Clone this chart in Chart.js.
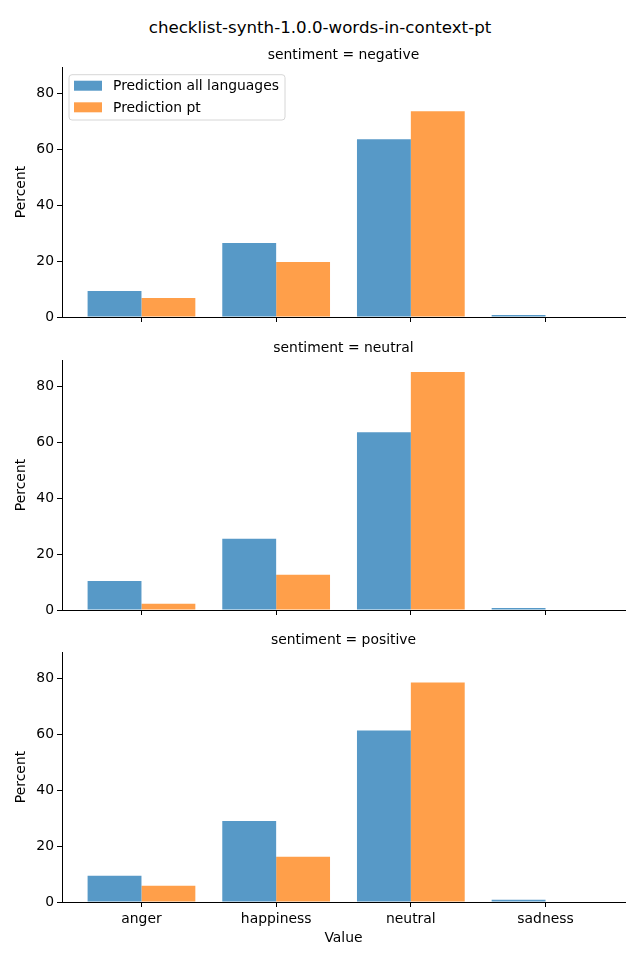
<!DOCTYPE html>
<html><head><meta charset="utf-8">
<script src="https://cdn.jsdelivr.net/npm/chart.js@4.4.1/dist/chart.umd.min.js"></script>
<style>
html,body{margin:0;padding:0;background:#fff;}
#wrap{position:relative;width:640px;height:960px;overflow:hidden;background:#fff;}
#suptitle{position:absolute;left:0;top:18px;width:640px;text-align:center;font-family:"DejaVu Sans";font-size:16.67px;line-height:20px;color:#000;}
canvas{position:absolute;left:0;}
</style></head><body>
<div id="wrap">
<div id="suptitle">checklist-synth-1.0.0-words-in-context-pt</div>
<canvas id="c0" width="640" height="290" style="top:40px"></canvas>
<canvas id="c1" width="640" height="290" style="top:333px"></canvas>
<canvas id="c2" width="640" height="335" style="top:625px"></canvas>
</div>
<script>
const categories = ['anger', 'happiness', 'neutral', 'sadness'];
const panelNames = ['negative', 'neutral', 'positive'];
const seriesLabels = ['Prediction all languages', 'Prediction pt'];
const allNegative = [9.3, 26.5, 63.7, 0.7];
const ptNegative  = [6.8, 19.7, 73.7, 0.0];
const allNeutral  = [10.4, 25.5, 63.7, 0.7];
const ptNeutral   = [2.2, 12.6, 85.3, 0.0];
const allPositive = [9.4, 29.0, 61.5, 0.8];
const ptPositive  = [5.8, 16.2, 78.7, 0.0];
const yTicks = [0, 20, 40, 60, 80];
const yMax = 89.6;

const panelSeries = [[allNegative, ptNegative], [allNeutral, ptNeutral], [allPositive, ptPositive]];
const colors = ['#5799c7', '#ff9f4a'];
const FONT = 'DejaVu Sans';
const FS = 13.9;
Chart.defaults.font.family = FONT;
Chart.defaults.color = '#000';

const innerLegend = {
  id: 'innerLegend',
  afterDraw(chart) {
    const ctx = chart.ctx, ca = chart.chartArea;
    const x = ca.left + 7, y = ca.top + 7.7, w = 216, h = 45.3, r = 3;
    ctx.save();
    ctx.beginPath();
    ctx.moveTo(x + r, y);
    ctx.arcTo(x + w, y, x + w, y + h, r);
    ctx.arcTo(x + w, y + h, x, y + h, r);
    ctx.arcTo(x, y + h, x, y, r);
    ctx.arcTo(x, y, x + w, y, r);
    ctx.closePath();
    ctx.fillStyle = 'rgba(255,255,255,0.8)';
    ctx.fill();
    ctx.strokeStyle = '#d6d6d6';
    ctx.lineWidth = 1;
    ctx.stroke();
    chart.data.datasets.forEach((ds, i) => {
      const py = ca.top + 13.7 + i * 21.6;
      ctx.fillStyle = ds.backgroundColor;
      ctx.fillRect(ca.left + 12, py, 28, 10);
      ctx.fillStyle = '#000';
      ctx.font = FS + 'px "' + FONT + '"';
      ctx.textBaseline = 'middle';
      ctx.textAlign = 'left';
      ctx.fillText(ds.label, ca.left + 51, py + 6);
    });
    ctx.restore();
  }
};

panelNames.forEach((name, p) => {
  const last = p === panelNames.length - 1;
  const canvas = document.getElementById('c' + p);
  const xHeight = canvas.height - 277;
  new Chart(canvas, {
    type: 'bar',
    data: {
      datasets: panelSeries[p].map((vals, s) => ({
        label: seriesLabels[s],
        data: categories.map((c, j) => ({x: j, y: vals[j]})),
        backgroundColor: colors[s],
        borderWidth: 0,
        barPercentage: 1,
        categoryPercentage: 0.8
      }))
    },
    plugins: p === 0 ? [innerLegend] : [],
    options: {
      responsive: false,
      animation: false,
      devicePixelRatio: 1,
      layout: {padding: {left: 0, right: 15, top: 0, bottom: 0}},
      plugins: {
        legend: {display: false},
        tooltip: {enabled: false},
        title: {
          display: true, text: 'sentiment = ' + name, fullSize: false,
          color: '#000', font: {family: FONT, size: FS, weight: 'normal'},
          padding: {top: 7.5, bottom: 2.83}
        }
      },
      scales: {
        x: {
          type: 'linear', min: -0.59, max: 3.59, offset: false,
          grid: {display: true, drawOnChartArea: false, drawTicks: true, tickLength: 5, color: '#000', lineWidth: 1, offset: false},
          border: {display: true, color: '#000', width: 1},
          ticks: {display: last, padding: 4, color: '#000', font: {family: FONT, size: FS},
                  callback: v => categories[v]},
          afterBuildTicks: s => { s.ticks = categories.map((c, j) => ({value: j})); },
          afterFit: s => { s.height = xHeight; },
          title: {display: last, text: 'Value', color: '#000', font: {family: FONT, size: FS}, padding: {top: 0, bottom: 13.5}}
        },
        y: {
          min: 0, max: yMax,
          grid: {display: true, drawOnChartArea: false, drawTicks: true, tickLength: 5, color: '#000', lineWidth: 1},
          border: {display: true, color: '#000', width: 1},
          ticks: {padding: 3, color: '#000', font: {family: FONT, size: FS}},
          afterBuildTicks: s => { s.ticks = yTicks.map(v => ({value: v})); },
          afterFit: s => { s.width = 62; },
          title: {display: true, text: 'Percent', color: '#000', font: {family: FONT, size: FS}, padding: {top: 12.7, bottom: 0}}
        }
      }
    }
  });
});
</script>
</body></html>
